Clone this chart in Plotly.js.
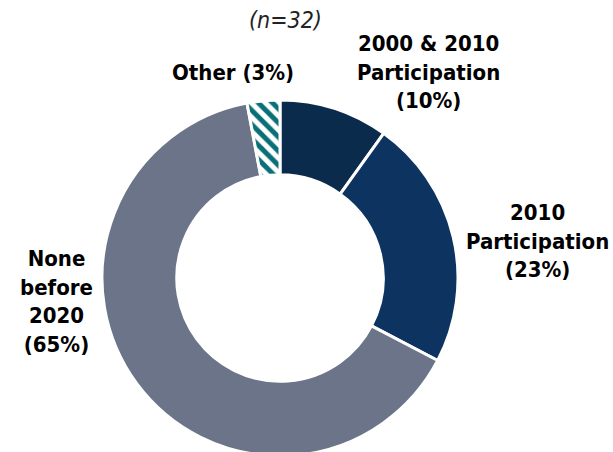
<!DOCTYPE html>
<html><head><meta charset="utf-8">
<script src="https://cdn.plot.ly/plotly-3.0.1.min.js"></script>
<style>html,body{margin:0;padding:0;overflow:hidden;background:#fff}#chart{width:613px;height:460px}</style>
</head><body><div id="chart"></div>
<script>
const categories = ["2000 & 2010 Participation", "2010 Participation", "None before 2020", "Other"];
const percents = [10, 23, 65, 3];
const labelLines = [["2000 & 2010", "Participation"], ["2010", "Participation"], ["None", "before", "2020"], ["Other"]];
const colors = ["#0b2b4c", "#0d3461", "#6b7488", "#ffffff"];
const sampleNote = "(n=32)";

const W = 613, H = 460;
const cx = 280, cy = 278, R = 178;

const trace = {
  type: "pie",
  values: percents,
  labels: categories,
  sort: false,
  direction: "clockwise",
  rotation: 0,
  hole: 0.58,
  textinfo: "none",
  hoverinfo: "label+percent",
  marker: {
    colors: colors,
    line: {color: "#ffffff", width: 3},
    pattern: {
      shape: ["", "", "", "\\"],
      fgcolor: ["", "", "", "#0b6f78"],
      bgcolor: ["", "", "", "#ffffff"],
      fillmode: "replace",
      size: 10,
      solidity: 0.5
    }
  },
  domain: {x: [(cx - R) / W, (cx + R) / W], y: [(H - cy - R) / H, (H - cy + R) / H]},
  showlegend: false
};

const fam = "DejaVu Sans Condensed, sans-serif";
const font = {family: fam, size: 22, color: "#000"};
function lbl(i) {
  return labelLines[i].concat(["(" + percents[i] + "%)"]).join("<br>");
}
const annPos = [
  {x: 428, y: 72},
  {x: 537, y: 241},
  {x: 56, y: 301},
  {x: 233, y: 72}
];
const annotations = annPos.map((p, i) => ({
  text: i === 3 ? "<b>" + labelLines[3][0] + " (" + percents[3] + "%)</b>" : "<b>" + lbl(i) + "</b>",
  x: p.x / W, y: 1 - p.y / H, xref: "paper", yref: "paper",
  xanchor: "center", yanchor: "middle", showarrow: false,
  font: font, align: "center"
}));
annotations.push({
  text: "<i>" + sampleNote + "</i>", x: 285 / W, y: 1 - 20 / H, xref: "paper", yref: "paper",
  xanchor: "center", yanchor: "middle", showarrow: false,
  font: {family: fam, size: 23, color: "#222"}
});

const layout = {
  width: W, height: H,
  margin: {l: 0, r: 0, t: 0, b: 0},
  paper_bgcolor: "#fff",
  annotations: annotations
};
Plotly.newPlot("chart", [trace], layout, {displayModeBar: false, staticPlot: true});
</script></body></html>
